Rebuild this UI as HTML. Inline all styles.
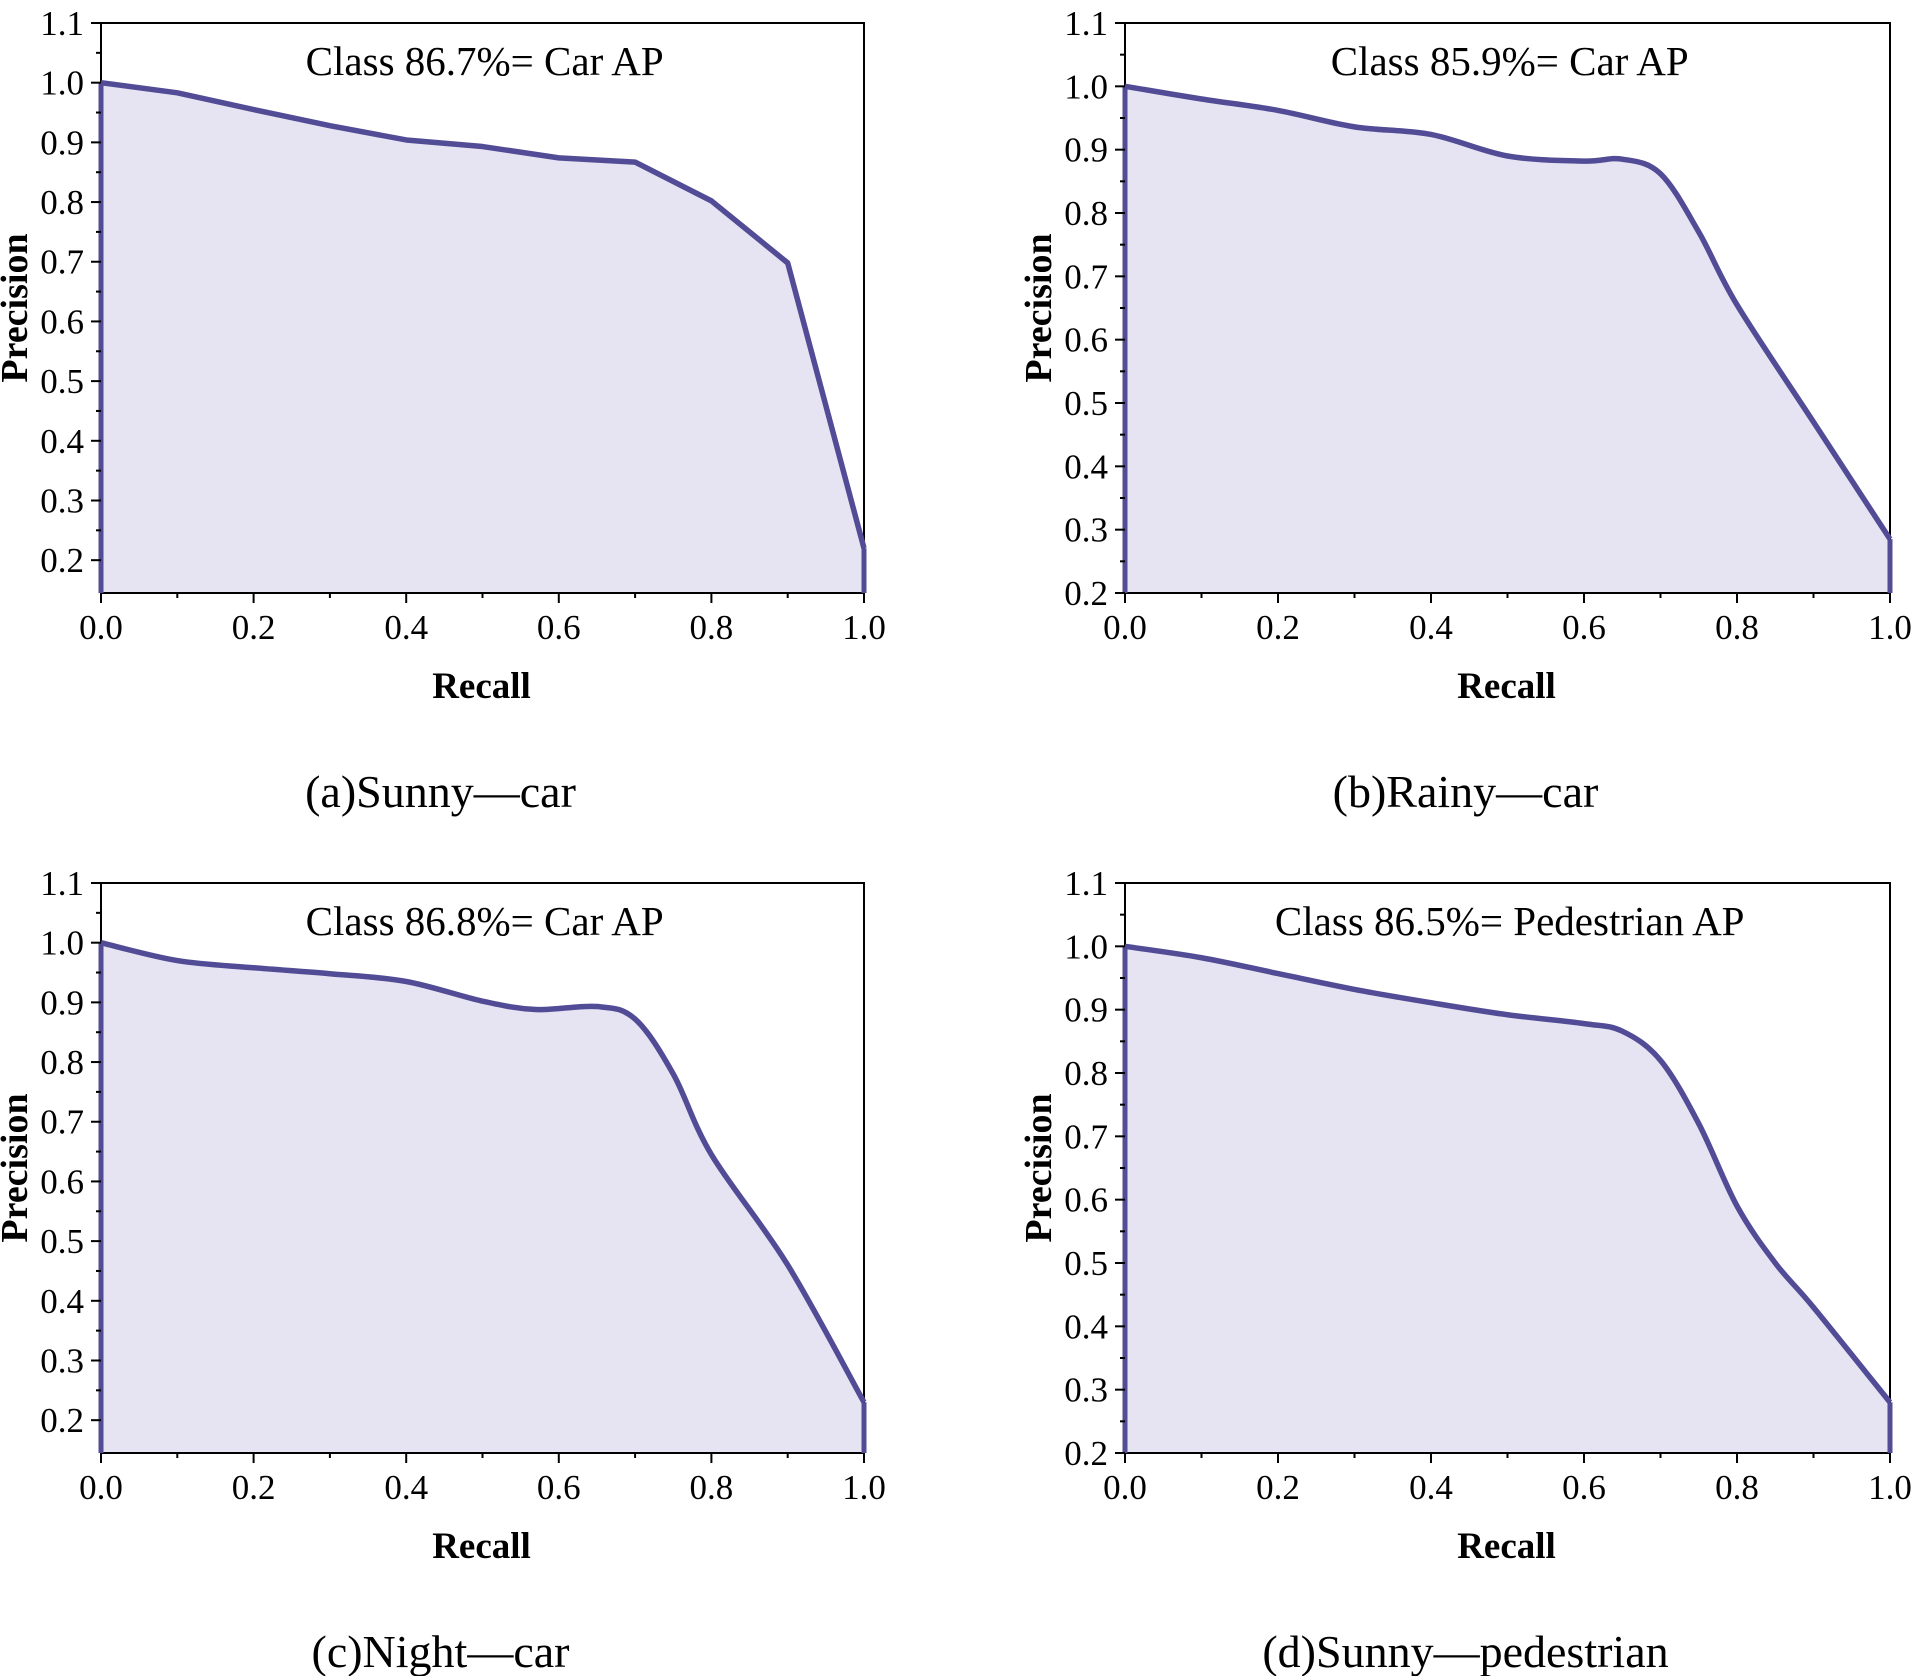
<!DOCTYPE html>
<html><head><meta charset="utf-8"><style>
html,body{margin:0;padding:0;background:#fff;}
svg{display:block;}
text{font-family:"Liberation Serif","Times New Roman","DejaVu Serif",serif;}
</style></head><body>
<svg id="s" width="1913" height="1676" viewBox="0 0 1913 1676" xmlns="http://www.w3.org/2000/svg"></svg>
<script>
const S=document.getElementById('s');let h='';
const FF='font-family="Liberation Serif, Times New Roman, serif"';
const panels=[
 {L:101,R:864,T:23,B:593,y0:0.145,title:'Class 86.7%= Car AP',cap:'(a)Sunny\u2014car',smooth:false,
  d:[[0,1],[0.1,0.983],[0.2,0.955],[0.3,0.928],[0.4,0.904],[0.5,0.893],[0.6,0.874],[0.7,0.867],[0.8,0.802],[0.9,0.698],[1,0.22]]},
 {L:1125,R:1890,T:23,B:593,y0:0.2,title:'Class 85.9%= Car AP',cap:'(b)Rainy\u2014car',smooth:true,
  d:[[0,1],[0.1,0.98],[0.2,0.962],[0.3,0.936],[0.4,0.924],[0.5,0.89],[0.6,0.882],[0.65,0.885],[0.7,0.862],[0.75,0.77],[0.8,0.655],[0.9,0.47],[1,0.285]]},
 {L:101,R:864,T:883,B:1453,y0:0.145,title:'Class 86.8%= Car AP',cap:'(c)Night\u2014car',smooth:true,
  d:[[0,1],[0.1,0.97],[0.2,0.958],[0.3,0.948],[0.4,0.935],[0.5,0.902],[0.57,0.888],[0.65,0.893],[0.7,0.872],[0.75,0.78],[0.8,0.645],[0.9,0.46],[1,0.23]]},
 {L:1125,R:1890,T:883,B:1453,y0:0.2,title:'Class 86.5%= Pedestrian AP',cap:'(d)Sunny\u2014pedestrian',smooth:true,
  d:[[0,1],[0.1,0.982],[0.2,0.957],[0.3,0.932],[0.4,0.911],[0.5,0.892],[0.6,0.878],[0.65,0.866],[0.7,0.82],[0.75,0.72],[0.8,0.59],[0.85,0.5],[0.9,0.43],[1,0.28]]}
];
for(const p of panels){
 const X=x=>p.L+x*(p.R-p.L), Y=y=>p.T+(1.1-y)/(1.1-p.y0)*(p.B-p.T);
 const pts=p.d.map(([x,y])=>[X(x),Y(y)]);
 let path='M'+pts[0][0]+','+pts[0][1];
 if(!p.smooth){for(let i=1;i<pts.length;i++)path+=' L'+pts[i][0]+','+pts[i][1];}
 else{for(let i=0;i<pts.length-1;i++){const p0=pts[Math.max(0,i-1)],p1=pts[i],p2=pts[i+1],p3=pts[Math.min(pts.length-1,i+2)];
  const c1=[p1[0]+(p2[0]-p0[0])/6,p1[1]+(p2[1]-p0[1])/6],c2=[p2[0]-(p3[0]-p1[0])/6,p2[1]-(p3[1]-p1[1])/6];
  path+=` C${c1[0]},${c1[1]} ${c2[0]},${c2[1]} ${p2[0]},${p2[1]}`;}}
 h+=`<path d="${path} L${p.R},${p.B} L${p.L},${p.B} Z" fill="#e6e4f2"/>`;
 h+=`<rect x="${p.L}" y="${p.T}" width="${p.R-p.L}" height="${p.B-p.T}" fill="none" stroke="#000" stroke-width="2"/>`;
 h+=`<path d="${path}" fill="none" stroke="#524c96" stroke-width="5.5" stroke-linejoin="round"/>`;
 h+=`<line x1="${p.L}" y1="${Y(1)}" x2="${p.L}" y2="${p.B}" stroke="#524c96" stroke-width="5"/>`;
 h+=`<line x1="${p.R}" y1="${pts[pts.length-1][1]}" x2="${p.R}" y2="${p.B}" stroke="#524c96" stroke-width="5"/>`;
 for(let i=0;i<=10;i++){const x=X(i/10);h+=`<line x1="${x}" y1="${p.B}" x2="${x}" y2="${p.B+(i%2?5:10)}" stroke="#000" stroke-width="2"/>`;
  if(i%2==0)h+=`<text ${FF} x="${x}" y="${p.B+46}" font-size="35" text-anchor="middle">${(i/10).toFixed(1)}</text>`;}
 for(let k=4;k<=22;k++){const v=k*0.05;if(v<p.y0-1e-6)continue;const y=Y(v);const maj=k%2==0;
  h+=`<line x1="${p.L}" y1="${y}" x2="${p.L-(maj?10:5)}" y2="${y}" stroke="#000" stroke-width="2"/>`;
  if(maj)h+=`<text ${FF} x="${p.L-17}" y="${y+12}" font-size="35" text-anchor="end">${v.toFixed(1)}</text>`;}
 const cx=(p.L+p.R)/2;
 h+=`<text ${FF} x="${p.L+(p.R-p.L)*0.5225-15}" y="${p.T+52}" font-size="41" text-anchor="middle">${p.title}</text>`;
 h+=`<text ${FF} x="${cx-1}" y="${p.B+105}" font-size="37" font-weight="bold" text-anchor="middle">Recall</text>`;
 h+=`<text ${FF} transform="translate(${p.L-74},${(p.T+p.B)/2}) rotate(-90)" font-size="38" font-weight="bold" text-anchor="middle">Precision</text>`;
 h+=`<text ${FF} x="${cx-42}" y="${p.B+214}" font-size="46" text-anchor="middle">${p.cap}</text>`;
}
S.innerHTML=h;
</script>
</body></html>
